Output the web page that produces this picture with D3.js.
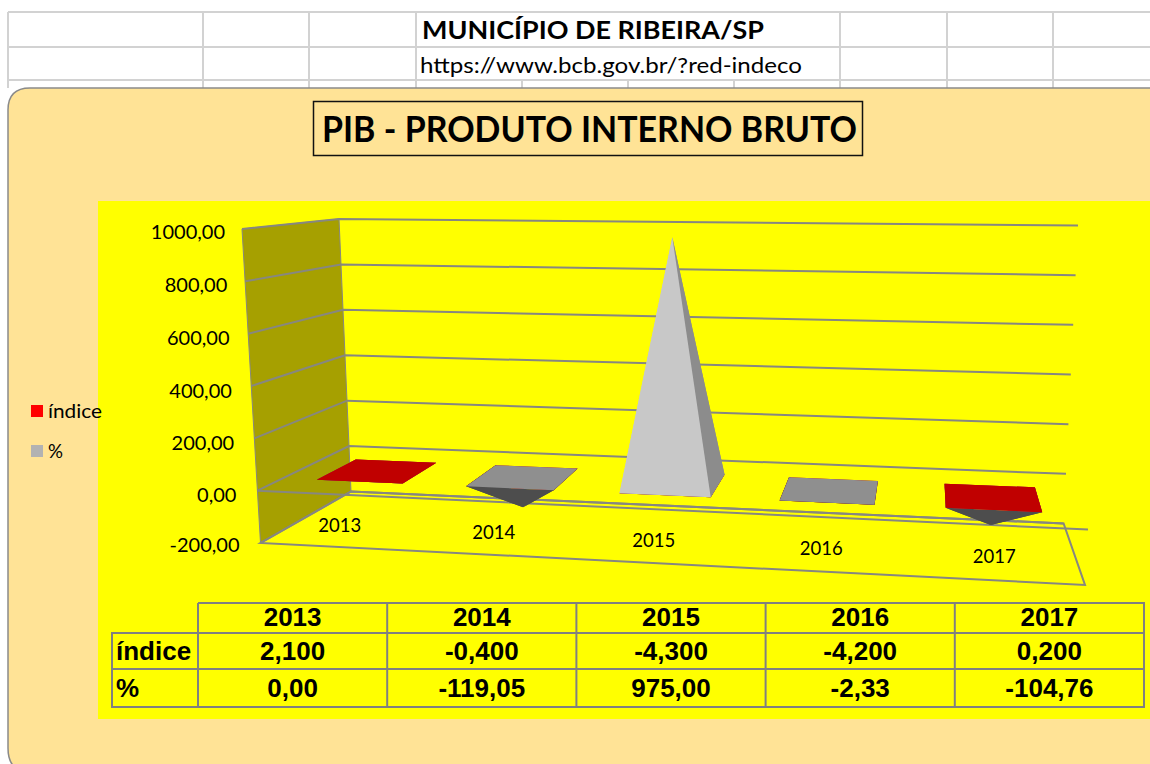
<!DOCTYPE html>
<html lang="pt-BR">
<head>
<meta charset="utf-8">
<title>PIB - PRODUTO INTERNO BRUTO</title>
<script src="https://cdn.jsdelivr.net/npm/d3@7"></script>
<style>
html,body{margin:0;padding:0;background:#fff;overflow:hidden}
svg{display:block}
text{fill:#000}
</style>
</head>
<body>
<svg id="c" width="1150" height="764"></svg>
<script>
const categories = ["2013","2014","2015","2016","2017"];
const indice = [2.1,-0.4,-4.3,-4.2,0.2];
const percent = [0,-119.05,975,-2.33,-104.76];
const seriesNames = ["índice","%"];
const yTicks = [1000,800,600,400,200,0,-200];
const sheetTitle = "MUNICÍPIO DE RIBEIRA/SP";
const sheetUrl = "https://www.bcb.gov.br/?red-indeco";
const chartTitle = "PIB - PRODUTO INTERNO BRUTO";

const ptBR = d3.formatLocale({decimal:",",thousands:".",grouping:[3],currency:["R$",""],minus:"-"});
const fmt2 = ptBR.format(".2f"), fmt3 = ptBR.format(".3f");
const svg = d3.select("#c");
const FONT = "Lato, 'Open Sans', sans-serif", TFONT = "'Liberation Sans', Arial, sans-serif";
const GRID = "#878780";

/* ---- worksheet behind the chart ---- */
const sheet = svg.append("g").attr("stroke","#d2d2d2").attr("stroke-width",2);
[12,47,80].forEach(y=>sheet.append("line").attr("x1",8).attr("x2",1150).attr("y1",y).attr("y2",y));
[8,203,309,416,840,947,1053].forEach(x=>sheet.append("line").attr("x1",x).attr("x2",x).attr("y1",12).attr("y2",88));
[522,628,734].forEach(x=>sheet.append("line").attr("x1",x).attr("x2",x).attr("y1",80).attr("y2",88));
svg.append("text").attr("x",422).attr("y",38.5).attr("font-family",FONT).attr("font-weight",700)
  .attr("font-size",25).attr("textLength",342).attr("lengthAdjust","spacingAndGlyphs").text(sheetTitle);
svg.append("text").attr("x",420).attr("y",73).attr("font-family",FONT)
  .attr("font-size",22).attr("textLength",382).attr("lengthAdjust","spacingAndGlyphs").text(sheetUrl);

/* ---- chart area ---- */
svg.append("path").attr("d","M1152,88 H30 Q8,88 8,110 V748 Q8,772 30,772 H1152 Z")
  .attr("fill","#FFE396").attr("stroke","#8a8a8a").attr("stroke-width",1.5);
svg.append("rect").attr("x",313.5).attr("y",101.5).attr("width",549).attr("height",54)
  .attr("fill","none").attr("stroke","#111").attr("stroke-width",1.5);
svg.append("text").attr("x",322).attr("y",142).attr("font-family",FONT).attr("font-weight",700)
  .attr("font-size",36).attr("textLength",535).attr("lengthAdjust","spacingAndGlyphs").text(chartTitle);
svg.append("rect").attr("x",98).attr("y",201).attr("width",1052).attr("height",518).attr("fill","#FFFF00");

/* ---- 3-D projection: value scales along the four vertical edges of the box ---- */
const vDom = [-200,1000];
const e = {
  xBL:d3.scaleLinear(vDom,[351,339]), yBL:d3.scaleLinear(vDom,[491.5,219]),
  xBR:d3.scaleLinear(vDom,[1063.6,1078]), yBR:d3.scaleLinear(vDom,[523.5,225.5]),
  xFL:d3.scaleLinear(vDom,[260.5,242]), yFL:d3.scaleLinear(vDom,[543,229]),
  xFR:d3.scaleLinear(vDom,[1085,1103]), yFR:d3.scaleLinear(vDom,[585,252])
};
const lerp = d3.interpolateNumber;
function proj(u,w,v){
  const xb=lerp(e.xBL(v),e.xBR(v))(u), xf=lerp(e.xFL(v),e.xFR(v))(u);
  const yb=lerp(e.yBL(v),e.yBR(v))(u), yf=lerp(e.yFL(v),e.yFR(v))(u);
  return [lerp(xb,xf)(w), lerp(yb,yf)(w)];
}
const persp = d3.scaleLinear().domain([.1,.3,.5,.7,.9]).range([.096,.283,.477,.68,.89]);
const band = d3.scaleBand(categories,[0,1]).paddingInner(.425).paddingOuter(.2125);
const depth = d3.scaleLinear([0,1],[.27,.72]);
const line = d3.line();
const closed = pts => line(pts)+"Z";

const plot = svg.append("g");
/* side wall */
plot.append("path").attr("d",closed([proj(0,1,1000),proj(0,0,1000),proj(0,0,-200),proj(0,1,-200)]))
  .attr("fill","#A6A000").attr("stroke",GRID).attr("stroke-width",1);
/* gridlines: side wall + back wall */
const gl = plot.append("g").attr("fill","none").attr("stroke",GRID).attr("stroke-width",2);
yTicks.forEach(v=>{
  gl.append("path").attr("d",line([proj(0,1,v),proj(0,0,v),proj(1,0,v)]));
});
/* zero plane front edge and floor */
gl.append("path").attr("d",line([proj(0,1,0),proj(1,1,0)]));
gl.append("path").attr("d",closed([proj(0,0,-200),proj(1,0,-200),proj(1,1,-200),proj(0,1,-200)]));

/* pyramids */
const shades = {
  "índice":{top:"#C00000",front:"#C00000",right:"#C00000",dark:"#6E0000"},
  "%":{top:"#8F8F8F",front:"#C8C8C8",right:"#8C8C8C",dark:"#4D4D4D"}
};
const pyr = plot.append("g");
categories.forEach((c,i)=>{
  const t0=band(c), t1=t0+band.bandwidth();
  const u0=persp(t0), u1=persp(t1), uc=persp((t0+t1)/2);
  const w0=depth(0), w1=depth(1), wc=depth(.5);
  const BL=proj(u0,w0,0),BR=proj(u1,w0,0),FL=proj(u0,w1,0),FR=proj(u1,w1,0);
  const draws=[{n:seriesNames[0],v:indice[i]},{n:seriesNames[1],v:percent[i]}];
  const ordered=draws.filter(d=>d.v<=0).concat(draws.filter(d=>d.v>0));
  ordered.forEach(d=>{
    const s=shades[d.n], A=proj(uc,wc,d.v), poly=(p,f)=>pyr.append("path").attr("d",closed(p)).attr("fill",f);
    if(d.v>0){
      poly([BL,BR,FR,FL],s.top);
      poly([BL,BR,A],s.right);
      poly([BL,FL,A],s.front);
      poly([BR,FR,A],s.right);
      poly([FL,FR,A],s.front);
    }else{
      poly([BL,FL,A],s.dark);
      poly([BR,FR,A],s.dark);
      poly([FL,FR,A],s.dark);
      poly([BL,BR,FR,FL],s.top);
    }
  });
});

/* value-axis labels */
const labelGap = d3.scaleLinear([1000,0,-200],[17,21,21]);
const labelDrop = d3.scaleLinear([1000,400,0,-200],[5,7,6,4]);
yTicks.forEach(v=>{
  const p=proj(0,1,v);
  plot.append("text").attr("x",p[0]-labelGap(v)).attr("y",p[1]+labelDrop(v)).attr("text-anchor","end")
    .attr("dominant-baseline","middle").attr("font-family",FONT).attr("font-size",20).text(fmt2(v));
});
/* category labels */
categories.forEach(c=>{
  const u=persp(band(c)+band.bandwidth()/2);
  plot.append("text").attr("x",proj(u,1,-200)[0]).attr("y",proj(u,.61,-200)[1]+1)
    .attr("text-anchor","middle").attr("dominant-baseline","middle")
    .attr("font-family",FONT).attr("font-size",18.5).text(c);
});

/* legend */
const legendFill=["#FF0000","#B2B2B2"];
const legendY=d3.scalePoint(seriesNames,[411,451]);
seriesNames.forEach((n,i)=>{
  svg.append("rect").attr("x",31).attr("y",legendY(n)-6).attr("width",12).attr("height",12).attr("fill",legendFill[i]);
  svg.append("text").attr("x",48).attr("y",legendY(n)+2).attr("dominant-baseline","middle")
    .attr("font-family",FONT).attr("font-size",19).attr("textLength",i?15:54).attr("lengthAdjust","spacingAndGlyphs").text(n);
});

/* data table */
const colX=d3.scaleBand(categories,[198,1144]);
const rowY=[603,633,669,707];
const tb=svg.append("g").attr("stroke","#808080").attr("stroke-width",2).attr("fill","none");
tb.append("path").attr("d",`M198,${rowY[0]}H1144V${rowY[3]}H112V${rowY[1]}H1144M112,${rowY[2]}H1144`);
categories.forEach(c=>tb.append("line").attr("x1",colX(c)).attr("x2",colX(c)).attr("y1",rowY[0]).attr("y2",rowY[3]));
const cell=(x,y,t,a)=>svg.append("text").attr("x",x).attr("y",y).attr("text-anchor",a||"middle")
  .attr("dominant-baseline","middle").attr("font-family",TFONT).attr("font-weight",700).attr("font-size",26).text(t);
categories.forEach((c,i)=>{
  const x=colX(c)+colX.bandwidth()/2;
  cell(x,619,c);
  cell(x,653,fmt3(indice[i]));
  cell(x,690,fmt2(percent[i]));
});
cell(116,653,seriesNames[0],"start");
cell(116,690,seriesNames[1],"start");
</script>
</body>
</html>
